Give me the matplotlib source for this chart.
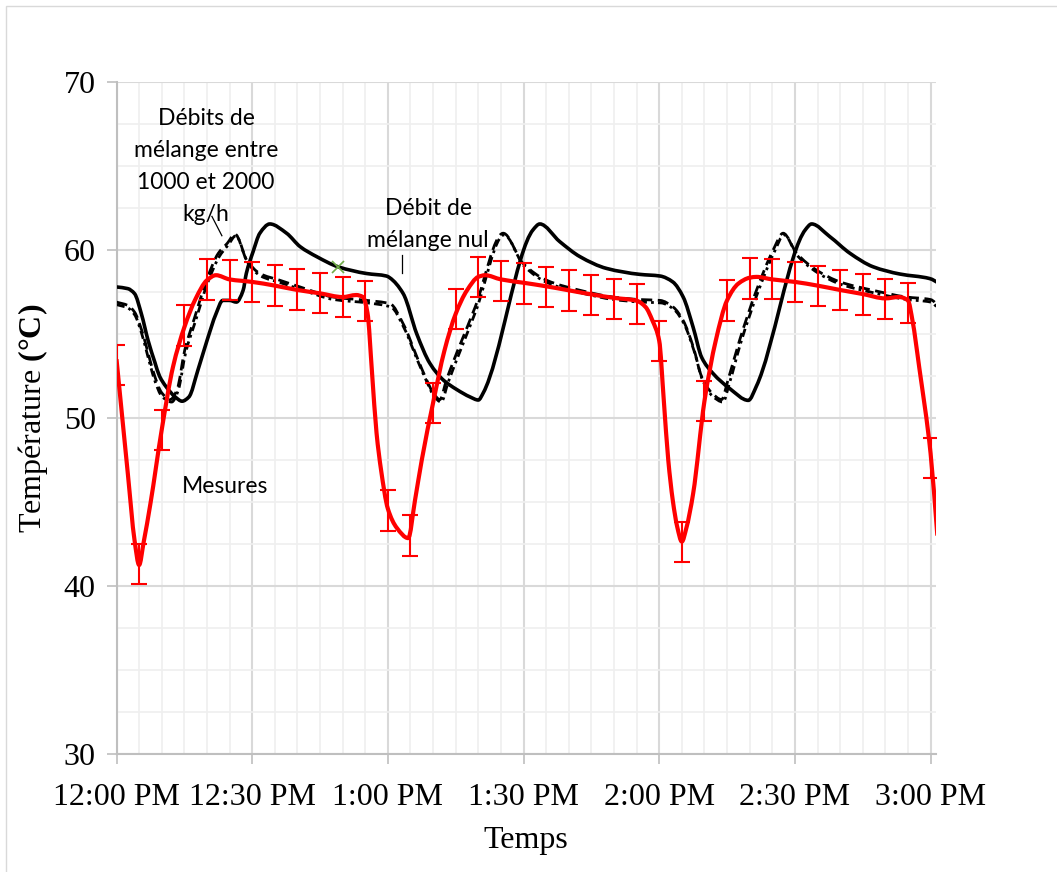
#!/usr/bin/env python3

import matplotlib
matplotlib.use('Agg')
import matplotlib.pyplot as plt
from matplotlib.path import Path
from matplotlib.patches import PathPatch, Rectangle
import numpy as np

# Temps en minutes depuis 12:00 PM
t_nul = [0, 2.5, 4, 5.5, 7, 8.5, 9.5, 11, 13, 14.5, 16, 18, 20, 22, 23.5, 25, 26.5,
         28, 28.7, 30.2, 31.7, 33.9, 37.6, 40.6, 44.3, 49, 55.3, 59.7, 60.4, 63.4,
         66.4, 69.3, 72.3, 75.2, 78.2, 80, 81.1, 92.1, 93.6, 98, 102.5, 108.4, 115.7,
         120.2, 123, 125.3, 127.5, 129.4, 131.9, 135.6, 139.7, 141.5, 152.3, 153.7,
         157.7, 162.2, 167.3, 173.2, 179.8, 182]
T_nul = [57.8, 57.7, 57.4, 56.2, 54.6, 53.3, 52.5, 51.85, 51.25, 51.0, 51.25, 52.85,
         54.6, 56.2, 57.0, 57.0, 56.9, 57.6, 58.6, 59.9, 61.0, 61.55, 61.0, 60.2, 59.6,
         59.0, 58.6, 58.45, 58.35, 57.4, 55.0, 53.25, 52.25, 51.7, 51.25, 51.07, 51.5,
         61.2, 61.55, 60.5, 59.6, 58.9, 58.55, 58.45, 58.1, 57.2, 55.4, 53.6, 52.65,
         51.75, 51.05, 51.9, 61.2, 61.55, 60.8, 59.8, 59.0, 58.57, 58.3, 58.0]

# Débit de mélange 1000 kg/h
t_1000 = [0, 2.5, 4, 5.6, 7, 8.5, 10, 11.9, 13.4, 15.1, 17.3, 19.9, 22.5, 24.5, 26.2,
          28.8, 31.7, 36.1, 40.6, 47.9, 55.3, 60.5, 63.4, 66.4, 68.6, 70, 71.5, 73,
          79.3, 85.5, 89.9, 95.1, 102.5, 109.8, 115.7, 120.2, 123.1, 125.3, 127.5,
          129.4, 131.6, 133.8, 135.2, 137.8, 141.5, 145.2, 147.4, 150.4, 154.8, 160,
          167.3, 174.7, 180, 182]
T_1000 = [56.9, 56.7, 56.3, 55.2, 53.85, 52.45, 51.5, 51.1, 51.7, 54.05, 56.0, 58.2,
          59.8, 60.4, 60.95, 59.4, 58.6, 58.2, 57.8, 57.2, 57.0, 56.8, 55.6, 53.65,
          52.25, 51.5, 51.1, 52.3, 56.6, 61.0, 59.2, 58.2, 57.6, 57.2, 57.05, 57.0,
          56.6, 55.8, 54.25, 52.45, 51.5, 51.1, 52.25, 54.65, 57.6, 60.0, 61.0, 59.8,
          58.8, 58.1, 57.6, 57.2, 57.05, 56.6]

# Débit de mélange 2000 kg/h
t_2000 = [0, 2.5, 4, 5.6, 7, 8.5, 10, 12.2, 13.6, 15.3, 17.5, 20.1, 22.7, 24.7, 26.4,
          29.0, 31.9, 36.3, 40.8, 48.1, 55.5, 60.7, 63.6, 66.6, 68.8, 70.2, 71.8, 73.3,
          79.5, 85.7, 90.1, 95.3, 102.7, 110.0, 115.9, 120.4, 123.3, 125.5, 127.7,
          129.6, 131.8, 134.1, 135.5, 138.0, 141.7, 145.4, 147.6, 150.6, 155.0, 160.2,
          167.5, 174.9, 180, 182]
T_2000 = [56.75, 56.55, 56.15, 55.0, 53.6, 52.2, 51.3, 50.95, 51.6, 53.9, 55.8, 58.0,
          59.6, 60.3, 60.85, 59.25, 58.45, 58.05, 57.65, 57.05, 56.85, 56.6, 55.35,
          53.4, 52.05, 51.3, 50.95, 52.1, 56.4, 60.9, 59.05, 58.05, 57.45, 57.05, 56.9,
          56.85, 56.45, 55.6, 54.0, 52.25, 51.3, 50.95, 52.05, 54.45, 57.4, 59.85, 60.9,
          59.65, 58.65, 57.95, 57.45, 57.05, 56.9, 56.45]

# Mesures (courbe)
t_mes = [0, 2.5, 4, 5, 6, 7.5, 10, 12.5, 15, 17.5, 20, 22, 25, 30, 35, 40, 45, 50, 53,
         54.5, 55.5, 56.5, 57.5, 58.5, 60, 62, 64.5, 66, 67.5, 70, 72.5, 75, 77.5, 80,
         81.5, 85, 90, 95, 100, 105, 110, 115, 117, 118.5, 120, 121, 122, 123, 124, 125,
         126, 127.5, 130, 132.5, 135, 137.5, 140, 141.5, 145, 150, 155, 160, 165, 170,
         173, 175, 176, 177.5, 180, 181.5]
T_mes = [53.5, 46.7, 42.7, 41.25, 42.6, 44.9, 49.3, 53.05, 55.4, 57.1, 58.2, 58.5,
         58.25, 58.1, 57.88, 57.62, 57.42, 57.2, 57.32, 57.2, 56.25, 52.7, 49.1, 46.9,
         44.6, 43.45, 42.85, 45.1, 47.5, 50.9, 54.0, 56.2, 57.6, 58.4, 58.5, 58.25,
         58.05, 57.84, 57.6, 57.36, 57.15, 56.98, 56.6, 55.8, 54.6, 51.1, 47.5, 45.1,
         43.5, 42.64, 43.45, 45.5, 51.0, 54.6, 57.0, 58.0, 58.35, 58.4, 58.25, 58.1,
         57.88, 57.62, 57.38, 57.12, 57.2, 57.0, 55.8, 53.0, 47.9, 43.0]

# Mesures avec barres d'erreur (toutes les 5 min)
t_err = list(range(0, 181, 5))
T_err = [53.15, 41.3, 49.3, 55.5, 58.25, 58.2, 58.1, 57.88, 57.65, 57.44, 57.2, 56.96,
         44.5, 43.0, 50.9, 56.5, 58.4, 58.17, 58.0, 57.8, 57.58, 57.32, 57.08, 56.8,
         54.6, 42.6, 51.0, 57.0, 58.3, 58.27, 58.1, 57.86, 57.6, 57.35, 57.1, 56.85,
         47.6]
err = 1.2

xticks = [0, 30, 60, 90, 120, 150, 180]
xticklabels = ['12:00 PM', '12:30 PM', '1:00 PM', '1:30 PM', '2:00 PM', '2:30 PM', '3:00 PM']


def smooth_path(x, y):
    """Courbe lissée (Bezier) passant par les points, sans dépassement."""
    x = np.asarray(x, float)
    y = np.asarray(y, float)
    h = np.diff(x)
    d = np.diff(y) / h
    n = len(x)
    m = np.zeros(n)
    m[0], m[-1] = d[0], d[-1]
    for i in range(1, n - 1):
        if d[i - 1] * d[i] > 0:
            w1 = 2 * h[i] + h[i - 1]
            w2 = h[i] + 2 * h[i - 1]
            m[i] = (w1 + w2) / (w1 / d[i - 1] + w2 / d[i])
    verts = [(x[0], y[0])]
    codes = [Path.MOVETO]
    for i in range(n - 1):
        verts += [(x[i] + h[i] / 3, y[i] + m[i] * h[i] / 3),
                  (x[i + 1] - h[i] / 3, y[i + 1] - m[i + 1] * h[i] / 3),
                  (x[i + 1], y[i + 1])]
        codes += [Path.CURVE4] * 3
    return Path(verts, codes)


def add_curve(ax, x, y, **kw):
    patch = PathPatch(smooth_path(x, y), fill=False, transform=ax.transData,
                      capstyle='butt', joinstyle='round', **kw)
    ax.add_patch(patch)


plt.rcParams['mathtext.fontset'] = 'custom'
plt.rcParams['mathtext.rm'] = 'Liberation Serif'
plt.rcParams['mathtext.bf'] = 'Liberation Serif:bold'

fig = plt.figure(figsize=(10.57, 8.72), dpi=100)
ax = fig.add_axes([116.5 / 1057, 1 - 754 / 872, (936 - 116.5) / 1057, (754 - 82) / 872])

# bordure du graphique
fig.add_artist(Rectangle((6 / 1057, -0.1), 2, 1 - 6 / 872 + 0.1, fill=False,
                         ec='#d9d9d9', lw=1, transform=fig.transFigure))

ax.set_xlim(0, 181.2)
ax.set_ylim(30, 70)

ax.set_xticks(xticks)
ax.set_xticklabels(xticklabels)
ax.set_xticks(np.arange(0, 181, 5), minor=True)
ax.set_yticks([30, 40, 50, 60, 70])
ax.set_yticks(np.arange(30, 70.1, 2.5), minor=True)

ax.grid(which='minor', color='#efefef', lw=1.2)
ax.grid(which='major', color='#d9d9d9', lw=1.5)
ax.set_axisbelow(True)

for s in ['top', 'right']:
    ax.spines[s].set_visible(False)
for s in ['left', 'bottom']:
    ax.spines[s].set_color('#bfbfbf')
    ax.spines[s].set_linewidth(1.5)

ax.tick_params(which='major', length=7, width=1.2, color='#bfbfbf',
               labelsize=23, labelfontfamily='Liberation Serif')
ax.tick_params(axis='x', which='major', pad=14)
ax.tick_params(axis='y', which='major', pad=8)
ax.tick_params(which='minor', length=0)

add_curve(ax, t_1000, T_1000, color='black', lw=2.0, linestyle=(0, (4, 2)), zorder=3)
add_curve(ax, t_2000, T_2000, color='black', lw=2.0, linestyle=(0, (3, 1.5, 1, 1.5)), zorder=3)
add_curve(ax, t_nul, T_nul, color='black', lw=2.6, zorder=4)
add_curve(ax, t_mes, T_mes, color='#ff0000', lw=3.0, zorder=5)

ax.errorbar(t_err, T_err, yerr=err, fmt='none', ecolor='#ff0000', elinewidth=1.5,
            capsize=5.5, capthick=1.5, zorder=5)

ax.plot([49.0], [59.0], marker='x', color='#70ad47', ms=8, mew=1.2, ls='none', zorder=6)

ann_font = dict(family='Lato', fontsize=16.5, color='black')
ax.text(19.8, 64.95, 'Débits de\nmélange entre\n1000 et 2000\nkg/h', ha='center',
        va='center', linespacing=1.65, **ann_font)
ax.text(68.9, 61.5, 'Débit de\nmélange nul', ha='center', va='center',
        linespacing=1.65, **ann_font)
ax.text(24.0, 45.9, 'Mesures', ha='center', va='center', **ann_font)

ax.plot([21.1, 23.3], [62.0, 60.85], color='black', lw=0.9, zorder=6)
ax.plot([63.1, 63.1], [59.7, 58.65], color='black', lw=0.9, zorder=6)

ax.set_xlabel('Temps', fontsize=23, family='Liberation Serif', labelpad=10)
ax.set_ylabel(r'Température $\mathbf{(°C)}$', fontsize=23, family='Liberation Serif',
              labelpad=10)

fig.savefig('out.png', dpi=100)
